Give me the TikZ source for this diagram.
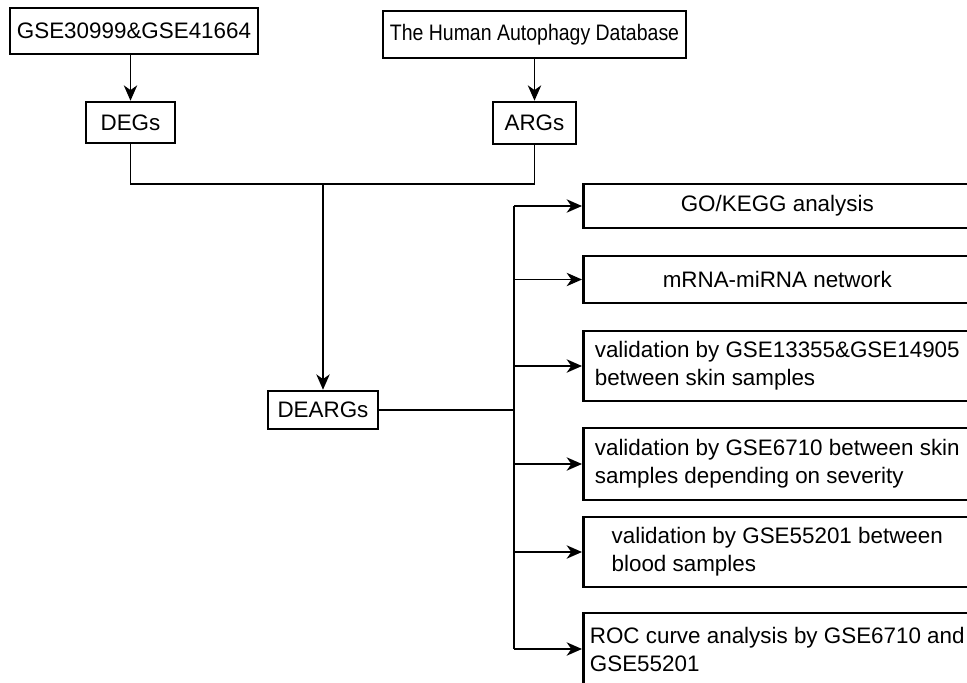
\documentclass[tikz,border=0pt]{standalone}
\usepackage{fontspec}
\setmainfont{Liberation Sans}
\usetikzlibrary{arrows.meta,calc}
\tikzstyle{box}=[draw,line width=1.9pt,inner sep=2pt,font=\fontsize{16.8}{21}\selectfont]
\tikzstyle{outbox}=[box,anchor=west,minimum width=291pt,align=left]
\tikzstyle{link}=[line width=1.4pt]
\tikzstyle{arr}=[link,-{Stealth[length=11.5pt,width=10pt,inset=3.5pt]}]
\newcommand{\narrow}[1]{\scalebox{0.87}[1]{#1}}

\begin{document}
\begin{tikzpicture}[x=0.75pt,y=-0.75pt]
	\fill[white] (0,0) rectangle (967,682);
	\useasboundingbox (0,0) rectangle (967,682);
	\node[box,minimum width=186pt,minimum height=34.5pt] (gse) at (134,31) {GSE30999\&GSE41664};
	\node[box,minimum width=227pt,minimum height=35.25pt] (hadb) at (534.5,34.5) {\narrow{The Human Autophagy Database}};
	\node[box,minimum width=66.75pt,minimum height=30.75pt] (degs) at (130.5,122.5) {DEGs};
	\node[box,minimum width=62.25pt,minimum height=31.5pt] (args) at (534.5,123) {ARGs};
	\node[box,minimum width=82.5pt,minimum height=28.5pt] (dearg) at (323,410) {DEARGs};
	\node[outbox,minimum height=33pt] (go) at (582,206) {GO/KEGG analysis};
	\node[outbox,minimum height=35.25pt] (mirna) at (582,279.5) {mRNA-miRNA network};
	\node[outbox,minimum height=52.5pt] (val1) at (582,366) {validation by GSE13355\&GSE14905\\between skin samples};
	\node[outbox,minimum height=54pt] (val2) at (582,464) {validation by GSE6710 between skin\\samples depending on severity};
	\node[outbox,minimum height=52.5pt] (val3) at (582,552) {validation by GSE55201 between\\blood samples};
	\node[outbox,minimum height=54pt] (roc) at (582,649) {ROC curve analysis by GSE6710 and\\GSE55201};
	\coordinate (join) at (323,184);
	\coordinate (trunk) at (514,410);
	\draw[arr] (gse.south -| degs.north) -- (degs.north);
	\draw[arr] (hadb) -- (args);
	\draw[link] (degs) |- (join) -| (args);
	\draw[arr] (join) -- (dearg);
	\draw[link] (dearg) -- (trunk);
	\draw[link] (trunk |- go.west) -- (trunk |- roc.west);
	\foreach \b in {go,mirna,val1,val2,val3,roc} {
		\draw[arr] (trunk |- \b.west) -- (\b.west);
	}
\end{tikzpicture}
\end{document}
